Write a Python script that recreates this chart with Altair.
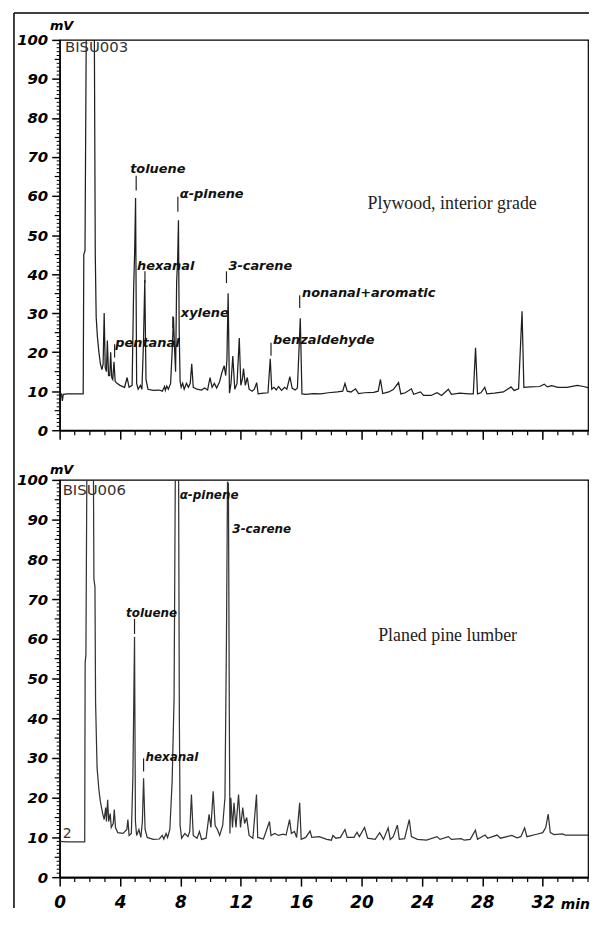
import altair as alt
import pandas as pd

# ---------------- data: Plywood, interior grade (BISU003) ----------------
ply_t = [0.0, 0.12, 0.18, 0.24, 0.5, 1.0, 1.56, 1.6, 1.68, 1.76, 2.3, 2.36, 2.42, 2.5, 2.6, 2.7, 2.8,
         2.88, 2.95, 3.02, 3.1, 3.16, 3.24, 3.32, 3.38, 3.45, 3.52, 3.6, 3.68, 3.8, 4.0, 4.3, 4.47,
         4.6, 4.8, 4.9, 4.97, 5.03, 5.1, 5.2, 5.35, 5.45, 5.55, 5.64, 5.72, 5.85, 6.2, 6.6, 6.8,
         6.95, 7.0, 7.1, 7.2, 7.35, 7.45, 7.54, 7.6, 7.68, 7.75, 7.82, 7.87, 7.92, 7.98, 8.05, 8.15,
         8.25, 8.4, 8.53, 8.65, 8.75, 8.85, 9.1, 9.4, 9.6, 9.8, 9.96, 10.1, 10.25, 10.4, 10.6,
         10.75, 10.9, 11.0, 11.08, 11.16, 11.25, 11.35, 11.47, 11.6, 11.75, 11.9, 12.0, 12.1,
         12.18, 12.3, 12.43, 12.55, 12.75, 12.9, 13.05, 13.15, 13.5, 13.8, 13.95, 14.05, 14.2,
         14.35, 14.5, 14.7, 14.9, 15.05, 15.25, 15.4, 15.6, 15.75, 15.94, 16.05, 16.3, 16.8,
         17.3, 17.8, 18.4, 18.75, 18.9, 19.05, 19.3, 19.6, 19.8, 20.2, 20.8, 21.1, 21.25, 21.4,
         21.8, 22.1, 22.45, 22.6, 22.9, 23.3, 23.45, 23.9, 24.1, 24.6, 25.0, 25.3, 25.75, 25.95,
         26.5, 27.1, 27.4, 27.55, 27.68, 27.9, 28.16, 28.3, 28.8, 29.4, 29.9, 30.1, 30.4, 30.63,
         30.75, 31.2, 31.8, 32.1, 32.3, 32.6, 33.0, 33.6, 34.3, 34.7, 35.0]
ply_v = [9.5, 9.3, 7.5, 9.2, 9.3, 9.3, 9.3, 45, 46, 100, 100, 45, 29, 24, 20, 17, 15.5,
         17, 30, 16, 15, 23, 14, 14, 20, 13.5, 13, 17.5, 12.5, 12, 11.5, 11, 13.5,
         11, 11.5, 36, 46, 59.5, 12, 10.5, 11.5, 10.5, 22, 38.5, 13, 10.5, 10.2, 10.3, 10,
         11.2, 10.2, 11.3, 10.5, 12, 20, 29, 22, 15, 38, 44, 53.8, 25, 12.5, 11, 12,
         10.5, 12, 11, 12, 17, 11, 10.5, 10.3, 10.8, 10.3, 13.5, 11, 12, 10.8, 12.5,
         14.8, 16.5, 14, 18, 35.1, 9.5, 12, 19, 10.5, 12, 23.6, 11.5, 13,
         15.8, 11.5, 13.5, 10.5, 10, 10.5, 12.2, 9.3, 9.5, 9.6, 18.3, 10.5, 11,
         10.3, 11.2, 10.2, 11, 10.5, 13.7, 10.8, 10.3, 10.8, 28.7, 9.3, 9.2, 9.4,
         9.3, 9.6, 9.8, 10, 12, 10, 9.8, 10.6, 9.4, 9.6, 9.7, 10, 13, 9.4,
         9.8, 10.4, 12.2, 9.3, 9.6, 10.6, 9.2, 9.8, 8.9, 8.9, 9.6, 8.9, 10.5, 9.2,
         9.5, 9.3, 9.3, 21.1, 9.3, 9.6, 11, 9.3, 9.5, 9.8, 11.1, 10.2, 10.6, 30.5,
         11, 11.1, 11.2, 11.8, 11.1, 11.4, 11, 11, 11.5, 11.2, 10.9]

# ---------------- data: Planed pine lumber (BISU006) ----------------
pine_t = [0.0, 0.5, 1.0, 1.66, 1.69, 1.74, 1.8, 2.24, 2.27, 2.34, 2.38, 2.48, 2.6, 2.7, 2.85,
          2.95, 3.05, 3.1, 3.18, 3.25, 3.35, 3.42, 3.55, 3.62, 3.7, 3.85, 4.2, 4.45, 4.52, 4.6,
          4.75, 4.85, 4.9, 4.96, 5.02, 5.1, 5.25, 5.38, 5.48, 5.56, 5.66, 5.8, 6.2, 6.6, 6.8,
          6.9, 7.05, 7.15, 7.3, 7.45, 7.58, 7.66, 7.88, 7.93, 7.98, 8.08, 8.3, 8.5, 8.62, 8.73,
          8.85, 9.1, 9.26, 9.4, 9.7, 9.9, 10.02, 10.17, 10.3, 10.45, 10.6, 10.8, 10.95, 11.05,
          11.12, 11.18, 11.24, 11.28, 11.34, 11.45, 11.55, 11.68, 11.85, 11.98, 12.13, 12.25,
          12.39, 12.55, 12.8, 13.04, 13.12, 13.5, 13.9, 14.0, 14.25, 14.5, 14.8, 15.0, 15.23,
          15.35, 15.55, 15.7, 15.9, 16.0, 16.3, 16.59, 16.7, 17.2, 17.7, 18.0, 18.1, 18.3, 18.6,
          18.9, 19.05, 19.5, 19.7, 19.85, 20.2, 20.4, 20.9, 21.2, 21.45, 21.76, 21.9, 22.1,
          22.37, 22.5, 22.85, 23.16, 23.3, 23.7, 24.3, 25.0, 25.2, 25.75, 25.95, 26.6, 26.8,
          27.2, 27.54, 27.68, 28.18, 28.35, 28.98, 29.2, 29.95, 30.3, 30.55, 30.8, 30.95,
          31.6, 32.0, 32.2, 32.36, 32.5, 32.75, 33.3, 33.5, 34.2, 35.0]
pine_v = [9.0, 8.9, 8.9, 8.9, 54, 56, 100, 100, 75, 73, 44, 27.5, 22, 19, 16,
          14.5, 17.5, 14, 19.5, 14, 16, 12.5, 13.5, 17, 12.5, 11.2, 11, 12, 14.5, 10.5,
          11, 25, 40.8, 60.5, 14, 10.5, 12, 10, 14, 24.9, 12, 10, 9.5, 9.6, 10.5,
          9.6, 11, 10, 12, 24, 45, 100, 100, 40, 13, 9.8, 11, 10.2, 11.5, 20.8,
          10.5, 9.8, 11.5, 9.5, 9.8, 15.8, 12.5, 21.6, 13, 12, 10.5, 13, 20, 60,
          99.5, 99, 40, 11, 20, 12.5, 18.7, 12.5, 20.8, 12.5, 17.5, 13.5,
          15, 10.5, 9.8, 20.8, 10, 9.6, 14, 10.5, 11, 10.5, 10.8, 10.6, 14.5,
          11, 11.5, 10, 18.7, 9.5, 10, 11.6, 10, 10.2, 9.5, 9.3, 10.5, 9.8, 10,
          12, 10, 10, 11.3, 10.2, 12.5, 9.8, 9.5, 11.2, 9.5, 12.4, 9.5, 10.2,
          13.1, 9.5, 9.7, 14.5, 10.2, 9.5, 9.3, 10.2, 9.5, 10.2, 9.5, 9.7, 9.3,
          9.5, 11.8, 9.5, 10.6, 9.8, 10.6, 9.8, 10.5, 9.9, 10.2, 12.4, 10.2,
          10.8, 11.2, 12.5, 15.9, 11.2, 10.7, 10.9, 10.6, 10.6, 10.6]

# ---------------- peak labels ----------------
ply_lab = ["toluene", "α-pinene", "hexanal", "pentanal", "xylene", "3-carene",
           "benzaldehyde", "nonanal+aromatic"]
ply_lab_t = [4.67, 7.96, 5.13, 3.68, 8.03, 11.18, 14.14, 16.05]
ply_lab_v = [66.9, 60.6, 42.0, 22.4, 30.0, 42.0, 23.2, 35.1]
ply_mark_t = [5.07, 7.83, 5.65, 3.64, 7.5, 11.05, 14.0, 15.9]
ply_mark_lo = [61.4, 56.0, 37.7, 18.6, 26.2, 37.7, 19.1, 31.3]
ply_mark_hi = [65.2, 59.8, 40.7, 22.0, 29.2, 40.7, 22.4, 34.6]

pine_lab = ["toluene", "hexanal", "α-pinene", "3-carene"]
pine_lab_t = [4.4, 5.69, 7.95, 11.44]
pine_lab_v = [66.5, 30.25, 96.25, 87.75]
pine_mark_t = [4.96, 5.56]
pine_mark_lo = [61.2, 26.6]
pine_mark_hi = [65.0, 29.9]

# sample names / run ids
ply_name = ["Plywood, interior grade"]
ply_name_t = [20.4]
ply_name_v = [58.0]
pine_name = ["Planed pine lumber"]
pine_name_t = [21.1]
pine_name_v = [60.75]
ply_id = ["BISU003"]
pine_id = ["BISU006"]
id_t = [0.35, 0.2]
id_v = [98.2, 97.5]

# axes ticks
x_major = [0, 4, 8, 12, 16, 20, 24, 28, 32]
x_minor = [t for t in range(1, 36) if t % 4]
y_major = list(range(0, 101, 10))
y_minor = [v for v in range(1, 100) if v % 5]
y_mid = [v for v in range(5, 100, 10)]

W = 532
H_TOP = 393
H_BOT = 400
HAND = "DejaVu Sans"
XDOM = [0, 35]

xs = alt.Scale(domain=XDOM, nice=False, zero=False)
ys = alt.Scale(domain=[0, 100], nice=False)


def panel(t, v, lab, lab_t, lab_v, mk_t, mk_lo, mk_hi, name, name_t, name_v,
          run_id, rid_t, rid_v, H, bottom, label_size, line_color, mv_dy):
    trace = pd.DataFrame({"t": t, "v": v})
    xaxis = alt.Axis(values=x_major, tickSize=9, tickWidth=1.5, tickColor="black",
                     domainWidth=2, domainColor="black", grid=False, title=None,
                     labels=bottom, labelFont=HAND, labelFontStyle="italic",
                     labelFontWeight="bold", labelFontSize=17, labelColor="black",
                     labelPadding=9, labelFlush=False)
    yaxis = alt.Axis(values=y_major, tickSize=8, tickWidth=1.5, tickColor="black",
                     domainWidth=1.5, domainColor="black", grid=False, title=None,
                     labelFont=HAND, labelFontStyle="italic", labelFontWeight="bold",
                     labelFontSize=15, labelColor="black", labelPadding=4,
                     labelFlush=False)
    X = lambda f: alt.X(f, scale=xs, axis=xaxis)
    Y = lambda f: alt.Y(f, scale=ys, axis=yaxis)
    line = alt.Chart(trace).mark_line(color=line_color, strokeWidth=1.25, clip=True,
                                      interpolate="linear").encode(
        x=X("t:Q"), y=Y("v:Q"))
    yminor = alt.Chart(pd.DataFrame({"v": y_minor})).mark_rule(
        color="black", strokeWidth=1).encode(
        y=Y("v:Q"), x=alt.value(0), x2=alt.value(-3))
    ymid = alt.Chart(pd.DataFrame({"v": y_mid})).mark_rule(
        color="black", strokeWidth=1.2).encode(
        y=Y("v:Q"), x=alt.value(0), x2=alt.value(-5))
    xminor = alt.Chart(pd.DataFrame({"t": x_minor})).mark_rule(
        color="black", strokeWidth=1.2).encode(
        x=X("t:Q"), y=alt.value(H), y2=alt.value(H + 5))
    marks = alt.Chart(pd.DataFrame({"t": mk_t, "lo": mk_lo, "hi": mk_hi})).mark_rule(
        color="#222", strokeWidth=1.2).encode(
        x=X("t:Q"), y=Y("lo:Q"), y2="hi:Q")
    labels = alt.Chart(pd.DataFrame({"t": lab_t, "v": lab_v, "s": lab})).mark_text(
        align="left", baseline="middle", font=HAND, fontStyle="italic",
        fontWeight="bold", fontSize=label_size, color="#111").encode(
        x=X("t:Q"), y=Y("v:Q"), text="s:N")
    sname = alt.Chart(pd.DataFrame({"t": name_t, "v": name_v, "s": name})).mark_text(
        align="left", baseline="middle", font="Liberation Serif", fontSize=18,
        color="#222").encode(x=X("t:Q"), y=Y("v:Q"), text="s:N")
    rid = alt.Chart(pd.DataFrame({"t": [rid_t], "v": [rid_v], "s": run_id})).mark_text(
        align="left", baseline="middle", font="DejaVu Sans", fontSize=15,
        color="#333").encode(x=X("t:Q"), y=Y("v:Q"), text="s:N")
    mv = alt.Chart().mark_text(
        text="mV", align="center", baseline="middle", font=HAND, fontStyle="italic",
        fontWeight="bold", fontSize=13, color="black").encode(
        x=alt.value(2), y=alt.value(mv_dy))
    layers = [line, yminor, ymid, xminor, marks, labels, sname, rid, mv]
    return layers, X, Y


top_layers, _, _ = panel(ply_t, ply_v, ply_lab, ply_lab_t, ply_lab_v, ply_mark_t,
                         ply_mark_lo, ply_mark_hi, ply_name, ply_name_t, ply_name_v,
                         ply_id, id_t[0], id_v[0], H_TOP, False, 13, "#1e1e1e", -14)
frame_top = alt.Chart().mark_rule(color="black", strokeWidth=1.5).encode(
    x=alt.value(-46), x2=alt.value(533), y=alt.value(-27))
top = alt.layer(*top_layers, frame_top).properties(width=W, height=H_TOP)

bot_layers, BX, BY = panel(pine_t, pine_v, pine_lab, pine_lab_t, pine_lab_v, pine_mark_t,
                           pine_mark_lo, pine_mark_hi, pine_name, pine_name_t, pine_name_v,
                           pine_id, id_t[1], id_v[1], H_BOT, True, 12, "#333333", -10)
two = alt.Chart(pd.DataFrame({"t": [0.2], "v": [10.75], "s": ["2"]})).mark_text(
    align="left", baseline="middle", font="DejaVu Sans", fontSize=14,
    color="#333").encode(x=BX("t:Q"), y=BY("v:Q"), text="s:N")
mins = alt.Chart(pd.DataFrame({"t": [33.2], "s": ["min"]})).mark_text(
    align="left", baseline="middle", font=HAND, fontStyle="italic",
    fontWeight="bold", fontSize=14, color="black").encode(
    x=BX("t:Q"), y=alt.value(H_BOT + 28), text="s:N")
frame_left = alt.Chart().mark_rule(color="black", strokeWidth=1.5).encode(
    x=alt.value(-46), y=alt.value(-470), y2=alt.value(431))
bottom = alt.layer(*bot_layers, two, mins, frame_left).properties(width=W, height=H_BOT)

chart = alt.VConcatChart(
    vconcat=[top, bottom], spacing=50, bounds="flush", background="white",
    padding={"left": 4, "top": 0, "right": 0, "bottom": 0},
).configure_view(stroke="black", strokeWidth=1.2)

chart.save("out.html", embed_options={"renderer": "svg", "actions": False})
